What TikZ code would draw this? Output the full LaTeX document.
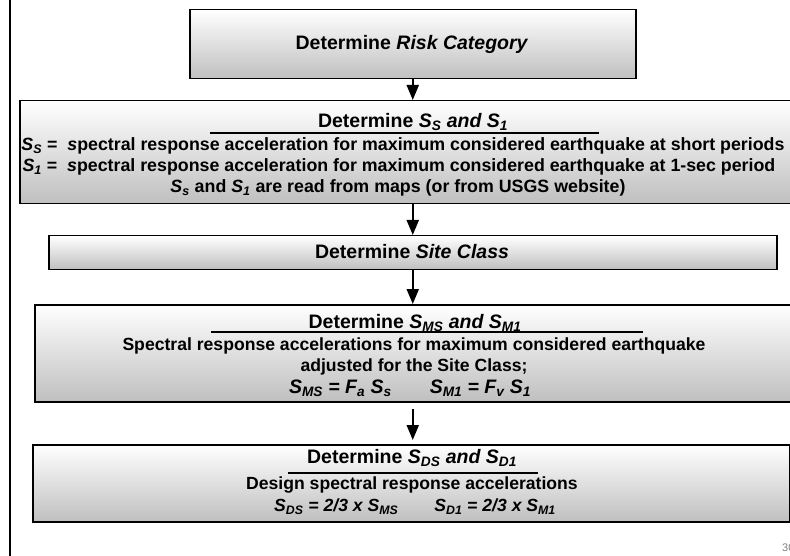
\documentclass[tikz,border=0pt]{standalone}
\usepackage{fontspec}
\setmainfont{Liberation Sans}
\usetikzlibrary{arrows.meta}
\newcommand{\sbs}[1]{\textsubscript{#1}}
\begin{document}
\begin{tikzpicture}[x=1pt,y=-1pt,
  stepbox/.style={draw=black,line width=1.5pt,top color=white,bottom color=gray!50,
    inner sep=0pt,anchor=north west},
  hd/.style={font=\fontsize{19.5}{23}\selectfont\bfseries,inner sep=0pt},
  bd/.style={font=\fontsize{17.8}{21}\selectfont\bfseries,inner sep=0pt},
  bd4/.style={font=\fontsize{17.6}{21}\selectfont\bfseries,inner sep=0pt},
  flow/.style={line width=2pt,-{Triangle[width=12pt,length=15pt]}},
  uline/.style={line width=1.8pt}]
\useasboundingbox (0,0) rectangle (790,556);
\fill[white] (0,0) rectangle (790,556);
% left rule
\coordinate (lt) at (10,-2);
\coordinate (lb) at (10,558);
\draw[line width=2pt] (lt) -- (lb);
% boxes
\node[stepbox,minimum width=446pt,minimum height=69pt] (b1) at (189,9) {};
\node[hd] (t1) at (412,44) {Determine \textit{Risk Category}};
\node[stepbox,minimum width=800pt,minimum height=103pt] (b2) at (19,100) {};
\node[hd] (t2a) at (413,122) {Determine \textit{S\sbs{S} and S\sbs{1}}};
\coordinate (u2a) at (210,133); \coordinate (u2b) at (599,133);
\draw[uline] (u2a) -- (u2b);
\node[bd] (t2b) at (403,146) {\textit{S\sbs{S}} = \ \textit{s}pectral response acceleration for maximum considered earthquake at short periods};
\node[bd] (t2c) at (399,167) {\textit{S\sbs{1}} = \ \textit{s}pectral response acceleration for maximum considered earthquake at 1-sec period};
\node[bd] (t2d) at (398,188) {\textit{S\sbs{s}} and \textit{S\sbs{1}} are read from maps (or from USGS website)};
\node[stepbox,minimum width=728pt,minimum height=34pt] (b3) at (48,235) {};
\node[hd] (t3) at (412,252) {Determine \textit{Site Class}};
\node[stepbox,minimum width=780pt,minimum height=97pt] (b4) at (34,304) {};
\node[hd] (t4a) at (415,323) {Determine \textit{S\sbs{MS} and S\sbs{M1}}};
\coordinate (u4a) at (211,332); \coordinate (u4b) at (643,332);
\draw[uline] (u4a) -- (u4b);
\node[bd4] (t4b) at (414,346) {Spectral response accelerations for maximum considered earthquake};
\node[bd4] (t4c) at (414,367) {adjusted for the Site Class;};
\node[hd] (t4d) at (410,388) {\textit{S\sbs{MS} = F\sbs{a} S\sbs{s}}\hspace{38pt}\textit{S\sbs{M1} = F\sbs{v} S\sbs{1}}};
\node[stepbox,minimum width=757pt,minimum height=77pt] (b5) at (32,444) {};
\node[hd] (t5a) at (412,458) {Determine \textit{S\sbs{DS} and S\sbs{D1}}};
\coordinate (u5a) at (288,473); \coordinate (u5b) at (538,473);
\draw[uline] (u5a) -- (u5b);
\node[bd4] (t5b) at (412,485) {Design spectral response accelerations};
\node[bd4] (t5c) at (415,507) {\textit{S\sbs{DS} = 2/3 x S\sbs{MS}}\hspace{36pt}\textit{S\sbs{D1} = 2/3 x S\sbs{M1}}};
% arrows
\draw[flow] (b1.south) -- (b1.south |- b2.north);
\draw[flow] (b1.south |- b2.south) -- (b1.south |- b3.north);
\draw[flow] (b1.south |- b3.south) -- (b1.south |- b4.north);
\draw[flow,shorten <=6pt,shorten >=4pt] (b1.south |- b4.south) -- (b1.south |- b5.north);
% page number
\node[font=\fontsize{11}{13}\selectfont,text=gray,anchor=west,inner sep=0pt] (pg) at (782,548) {30};
\end{tikzpicture}
\end{document}
